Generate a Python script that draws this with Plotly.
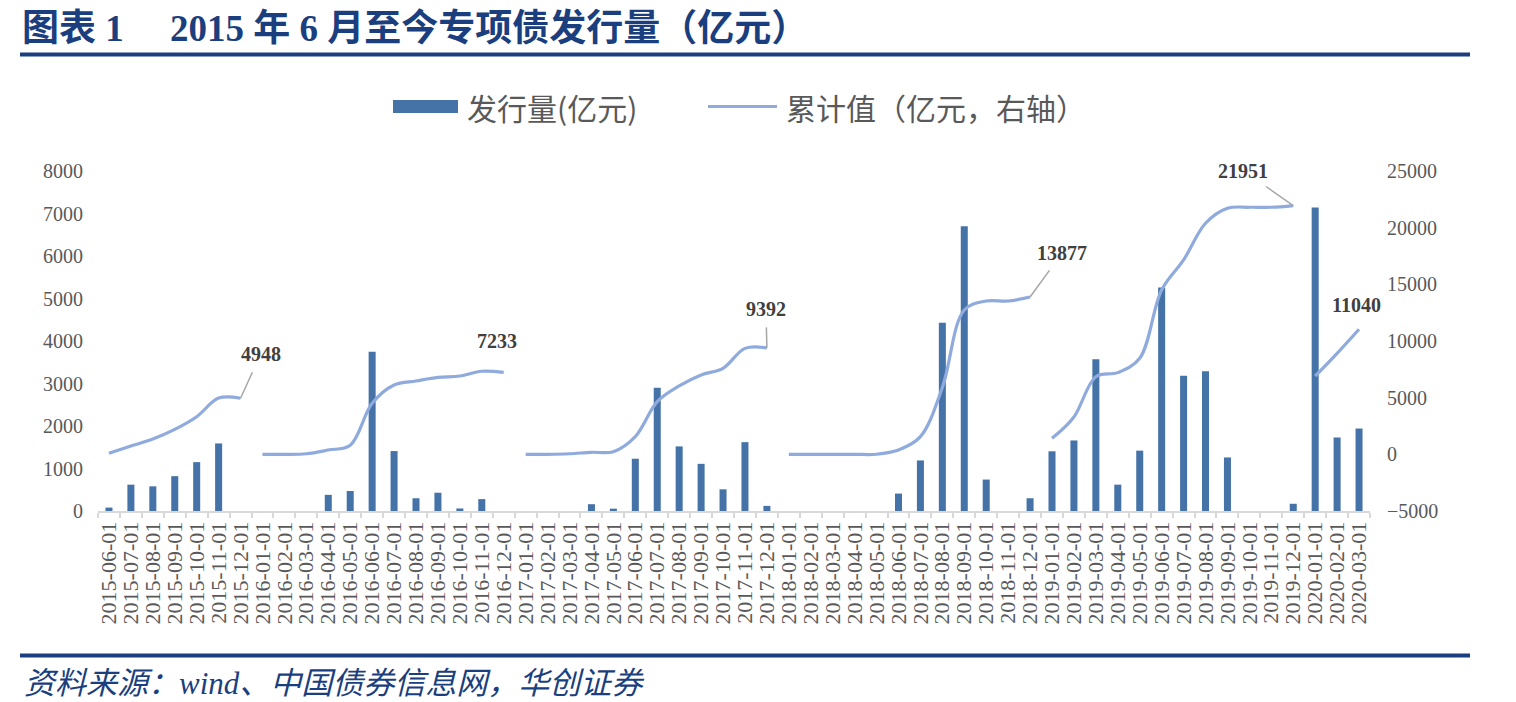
import plotly.graph_objects as go
import pandas as pd

# ---------------- data ----------------
months = list(pd.date_range("2015-06-01", "2020-03-01", freq="MS").strftime("%Y-%m-%d"))

issuance = [
    80, 620, 580, 820, 1150, 1590, 0,                                   # 2015-06..12
    0, 0, 0, 380, 470, 3750, 1410, 300, 430, 60, 280, 0,                # 2016
    0, 0, 0, 160, 55, 1230, 2900, 1520, 1110, 510, 1620, 120,           # 2017
    0, 0, 0, 0, 0, 410, 1190, 4430, 6700, 740, 0, 300,                  # 2018
    1405, 1660, 3570, 620, 1420, 5260, 3180, 3290, 1260, 0, 0, 170,     # 2019
    7140, 1730, 1940,                                                   # 2020-01..03
]

cumulative = [
    100, 730, 1350, 2200, 3320, 4960, 4948,
    0, 0, 50, 380, 800, 4500, 6120, 6470, 6790, 6910, 7330, 7233,
    0, 0, 50, 180, 235, 1560, 4650, 6030, 7000, 7590, 9350, 9392,
    0, 0, 0, 0, 10, 380, 1560, 5900, 12740, 13530, 13530, 13877,
    1410, 3300, 6850, 7210, 8470, 14500, 17150, 20390, 21710, 21800, 21800, 21951,
    6900, 8910, 11040,
]

# year-end labels
label_months = ["2015-12-01", "2016-12-01", "2017-12-01", "2018-12-01", "2019-12-01", "2020-03-01"]
label_values = [4948, 7233, 9392, 13877, 21951, 11040]

left_ticks = [0, 1000, 2000, 3000, 4000, 5000, 6000, 7000, 8000]
left_ticktext = ["0", "1000", "2000", "3000", "4000", "5000", "6000", "7000", "8000"]
right_ticks = [-5000, 0, 5000, 10000, 15000, 20000, 25000]
right_ticktext = ["\u22125000", "0", "5000", "10000", "15000", "20000", "25000"]

BAR_COLOR = "#4573A7"
LINE_COLOR = "#8FAADC"
NAVY = "#1B3F7E"
GRAY = "#595959"

# ---------------- layout geometry ----------------
W, H = 1516, 702
L, R, T, B = 98, 146, 171, 191
PW, PH = W - L - R, H - T - B


def px_x(px):
    return (px - L) / PW


def px_y(py):
    return (H - B - py) / PH


fig = go.Figure()

fig.add_trace(go.Bar(
    x=months, y=issuance, name="发行量(亿元)",
    marker=dict(color=BAR_COLOR, line=dict(width=0)),
    showlegend=False,
))

# cumulative line: one segment per year
years = sorted(set(m[:4] for m in months))
for yr in years:
    xs = [m for m in months if m[:4] == yr]
    ys = [v for m, v in zip(months, cumulative) if m[:4] == yr]
    fig.add_trace(go.Scatter(
        x=xs, y=ys, yaxis="y2", mode="lines", name="累计值（亿元，右轴）",
        line=dict(color=LINE_COLOR, width=3.2, shape="spline", smoothing=1.0),
        legendgroup="cum", showlegend=False,
    ))

tick_font = dict(family="Liberation Serif, Times New Roman, serif", size=20, color=GRAY)

fig.update_layout(
    width=W, height=H,
    margin=dict(l=L, r=R, t=T, b=B, pad=0),
    paper_bgcolor="white", plot_bgcolor="white",
    bargap=0.68,
    showlegend=False,
    xaxis=dict(
        type="category", categoryorder="array", categoryarray=months,
        range=[-0.5, len(months) - 0.5],
        tickmode="array", tickvals=months, ticktext=months,
        tickangle=-90, tickfont=dict(family="Liberation Serif, Times New Roman, serif", size=22, color=GRAY),
        ticks="outside", tickson="boundaries", ticklen=5, tickcolor="#D9D9D9", tickwidth=1.5,
        showline=True, linecolor="#D9D9D9", linewidth=2,
        showgrid=False, zeroline=False, automargin=False,
    ),
    yaxis=dict(
        range=[0, 8000], tickmode="array", tickvals=left_ticks, ticktext=left_ticktext,
        tickfont=tick_font, showgrid=False, zeroline=False, showline=False,
        ticks="", ticklabelstandoff=14, automargin=False,
    ),
    yaxis2=dict(
        range=[-5000, 25000], tickmode="array", tickvals=right_ticks, ticktext=right_ticktext,
        overlaying="y", side="right",
        tickfont=tick_font, showgrid=False, zeroline=False, showline=False,
        ticks="", ticklabelstandoff=16, automargin=False,
    ),
)

annotations = []
label_font = dict(family="Liberation Serif, Times New Roman, serif", size=20, color="#404040")
arrow_offsets = {
    "2015-12-01": (20, -44),
    "2017-12-01": (-1, -39),
    "2018-12-01": (32, -44),
    "2019-12-01": (-50, -35),
}
text_shifts = {
    "2016-12-01": (-7, 31),
    "2020-03-01": (-3, 24),
}
for m, v in zip(label_months, label_values):
    if m in arrow_offsets:
        ax, ay = arrow_offsets[m]
        annotations.append(dict(
            x=m, y=v, xref="x", yref="y2", text=f"<b>{v}</b>", font=label_font,
            showarrow=True, arrowhead=0, arrowwidth=1.5, arrowcolor="#A6A6A6",
            ax=ax, ay=ay, standoff=0, startstandoff=6,
        ))
    else:
        xs_, ys_ = text_shifts[m]
        annotations.append(dict(
            x=m, y=v, xref="x", yref="y2", text=f"<b>{v}</b>", font=label_font,
            showarrow=False, xshift=xs_, yshift=ys_,
        ))

nb = "\u00a0"
annotations.append(dict(
    x=px_x(20), y=px_y(29), xref="paper", yref="paper", xanchor="left", yanchor="middle",
    text=f"<b>图表{nb}1{nb*5}2015{nb}年{nb}6{nb}月至今专项债发行量（亿元）</b>",
    font=dict(family="Liberation Serif, Noto Sans CJK SC, serif", size=37, color=NAVY),
    showarrow=False,
))
legend_font = dict(family="Noto Sans CJK SC, sans-serif", size=30, color=GRAY)
annotations.append(dict(
    x=px_x(465), y=px_y(107), xref="paper", yref="paper", xanchor="left", yanchor="middle",
    text="发行量(亿元)", font=legend_font, showarrow=False,
))
annotations.append(dict(
    x=px_x(784), y=px_y(107), xref="paper", yref="paper", xanchor="left", yanchor="middle",
    text="累计值（亿元，右轴）", font=legend_font, showarrow=False,
))
annotations.append(dict(
    x=px_x(22), y=px_y(683), xref="paper", yref="paper", xanchor="left", yanchor="middle",
    text="<i>资料来源：wind、中国债券信息网，华创证券</i>",
    font=dict(family="Liberation Serif, Noto Sans CJK SC, serif", size=31, color=NAVY),
    showarrow=False,
))

shapes = [
    dict(type="line", xref="paper", yref="paper", x0=px_x(20), x1=px_x(1470),
         y0=px_y(54.5), y1=px_y(54.5), line=dict(color=NAVY, width=4)),
    dict(type="line", xref="paper", yref="paper", x0=px_x(20), x1=px_x(1470),
         y0=px_y(655.5), y1=px_y(655.5), line=dict(color=NAVY, width=4)),
    dict(type="rect", xref="paper", yref="paper", x0=px_x(393), x1=px_x(458),
         y0=px_y(113), y1=px_y(100), fillcolor=BAR_COLOR, line=dict(width=0)),
    dict(type="line", xref="paper", yref="paper", x0=px_x(708), x1=px_x(777),
         y0=px_y(106.5), y1=px_y(106.5), line=dict(color=LINE_COLOR, width=3.2)),
]

fig.update_layout(annotations=annotations, shapes=shapes)

fig.write_html("out.html")
